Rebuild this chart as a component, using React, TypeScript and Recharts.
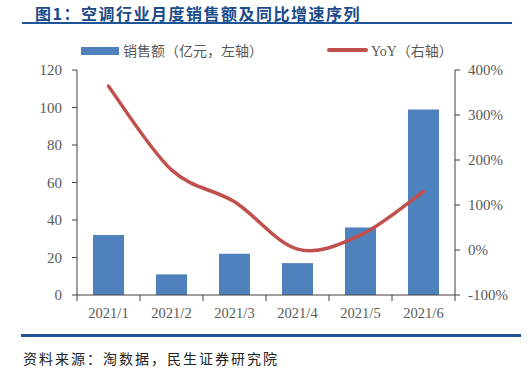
import { ComposedChart, Bar, Line, XAxis, YAxis } from "recharts";

const months = ["2021/1", "2021/2", "2021/3", "2021/4", "2021/5", "2021/6"];
const sales = [32, 11, 22, 17, 36, 99];
const yoy = [364, 178, 107, 2, 33, 130];
const leftTicks = [0, 20, 40, 60, 80, 100, 120];
const rightTicks = [-100, 0, 100, 200, 300, 400];

const data = months.map((m, i) => ({ month: m, sales: sales[i], yoy: yoy[i] }));

const BLUE = "#4F81BD";
const RED = "#C0504D";
const AXIS = "#404040";
const TXT = "#595959";
const CJK = '"Noto Sans CJK SC", sans-serif';
const SERIF = '"Liberation Serif", "Times New Roman", serif';

// excel-like smoothed line (catmull-rom through the points)
function smoothCurve(context: any) {
  let pts: number[][] = [];
  return {
    areaStart() {},
    areaEnd() {},
    lineStart() {
      pts = [];
    },
    lineEnd() {
      if (!pts.length) return;
      context.moveTo(pts[0][0], pts[0][1]);
      for (let i = 0; i < pts.length - 1; i++) {
        const p0 = pts[i - 1] || pts[i];
        const p1 = pts[i];
        const p2 = pts[i + 1];
        const p3 = pts[i + 2] || p2;
        context.bezierCurveTo(
          p1[0] + (p2[0] - p0[0]) / 6,
          p1[1] + (p2[1] - p0[1]) / 6,
          p2[0] - (p3[0] - p1[0]) / 6,
          p2[1] - (p3[1] - p1[1]) / 6,
          p2[0],
          p2[1]
        );
      }
    },
    point(x: number, y: number) {
      pts.push([+x, +y]);
    }
  };
}

const BAND = 63;

function MonthTick(props: any) {
  const { x, y, payload, index } = props;
  return (
    <g>
      <line x1={x - BAND / 2} x2={x - BAND / 2} y1={y - 8} y2={y - 2} stroke={AXIS} />
      {index === months.length - 1 && (
        <line x1={x + BAND / 2} x2={x + BAND / 2} y1={y - 8} y2={y - 2} stroke={AXIS} />
      )}
      <text x={x} y={y + 15} textAnchor="middle" fill={TXT} fontSize={14.5} fontFamily={SERIF}>
        {payload.value}
      </text>
    </g>
  );
}

export default function App() {
  return (
    <div style={{ position: "absolute", left: 0, top: 0, width: 531, height: 369, background: "#fff" }}>
      <div
        style={{
          position: "absolute",
          left: 35,
          top: 1,
          fontFamily: CJK,
          fontWeight: 700,
          fontSize: 16,
          color: "#1A4A8A",
          letterSpacing: 1.5,
          whiteSpace: "nowrap"
        }}
      >
        图1：空调行业月度销售额及同比增速序列
      </div>
      <div style={{ position: "absolute", left: 22, top: 22, width: 490, height: 2, background: "#1F5597" }} />

      <div style={{ position: "absolute", left: 81, top: 47, width: 38, height: 8, background: BLUE }} />
      <div style={{ position: "absolute", left: 123, top: 40, fontFamily: CJK, fontSize: 14, color: TXT, whiteSpace: "nowrap" }}>
        销售额（亿元，左轴）
      </div>
      <div style={{ position: "absolute", left: 327, top: 48, width: 41, height: 4, borderRadius: 2, background: RED }} />
      <div style={{ position: "absolute", left: 371, top: 40, fontSize: 14, color: TXT, whiteSpace: "nowrap" }}>
        <span style={{ fontFamily: SERIF }}>YoY</span>
        <span style={{ fontFamily: CJK }}>（右轴）</span>
      </div>

      <div style={{ position: "absolute", left: 0, top: 0 }}>
        <ComposedChart width={531} height={369} data={data} margin={{ top: 70, right: 0, bottom: 44, left: 0 }}>
          <XAxis
            dataKey="month"
            axisLine={{ stroke: AXIS }}
            tickLine={false}
            tick={<MonthTick />}
            height={30}
            interval={0}
          />
          <YAxis
            yAxisId="left"
            width={77}
            domain={[0, 120]}
            ticks={leftTicks}
            axisLine={{ stroke: AXIS }}
            tickLine={{ stroke: AXIS }}
            tickSize={5}
            tick={{ fill: TXT, fontSize: 15, fontFamily: SERIF }}
            tickMargin={10}
          />
          <YAxis
            yAxisId="right"
            orientation="right"
            width={76}
            domain={[-100, 400]}
            ticks={rightTicks}
            tickFormatter={(v: number) => `${v}%`}
            axisLine={{ stroke: AXIS }}
            tickLine={{ stroke: AXIS }}
            tickSize={5}
            tick={{ fill: TXT, fontSize: 15, fontFamily: SERIF }}
            tickMargin={8}
          />
          <Bar yAxisId="left" dataKey="sales" fill={BLUE} barSize={31} isAnimationActive={false} />
          <Line
            yAxisId="right"
            dataKey="yoy"
            type={smoothCurve as any}
            stroke={RED}
            strokeWidth={3.5}
            strokeLinecap="round"
            dot={false}
            activeDot={false}
            isAnimationActive={false}
          />
        </ComposedChart>
      </div>

      <div style={{ position: "absolute", left: 21, top: 334, width: 500, height: 3, background: "#1F5597" }} />
      <div
        style={{
          position: "absolute",
          left: 23,
          top: 348,
          fontFamily: CJK,
          fontSize: 14,
          letterSpacing: 2,
          color: "#222",
          whiteSpace: "nowrap"
        }}
      >
        资料来源：淘数据，民生证券研究院
      </div>
    </div>
  );
}
